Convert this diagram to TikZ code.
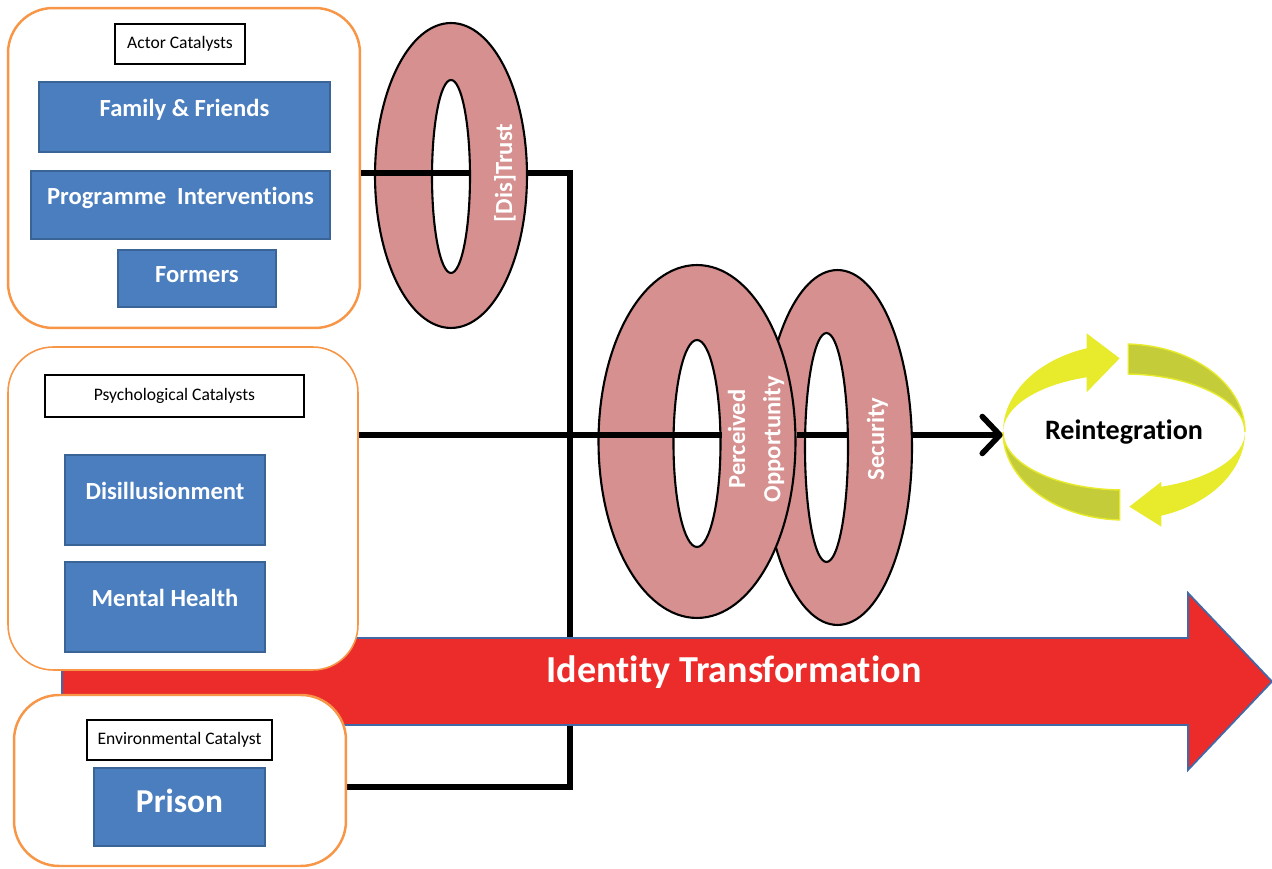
\documentclass[tikz,border=0pt]{standalone}
\usepackage{fontspec}
\setmainfont{Carlito}[Ligatures=NoCommon]
\usepackage{xcolor}
\usepackage{tikz}
\usetikzlibrary{shapes.geometric,arrows.meta,backgrounds}

\definecolor{catorange}{HTML}{F79646}
\definecolor{catblue}{HTML}{4A7EBF}
\definecolor{catblueedge}{HTML}{3A6496}
\definecolor{ringpink}{HTML}{D5908F}
\definecolor{idred}{HTML}{EC2C2A}
\definecolor{idedge}{HTML}{4169A8}
\definecolor{cycyellow}{HTML}{E8EA2C}
\definecolor{cycolive}{HTML}{C4CC3A}

\begin{document}
\begin{tikzpicture}[x=0.02cm,y=0.02cm]
\tikzstyle{catgroup} = [draw=catorange, line width=1.4pt, fill=white, rounded corners=0.9cm, inner sep=0]
\tikzstyle{cattag} = [draw=black, line width=0.7pt, fill=white, inner sep=0, font=\fontsize{10}{12}\selectfont]
\tikzstyle{catbox} = [draw=catblueedge, line width=1pt, fill=catblue, text=white, inner sep=0, text height=8pt, text depth=9pt, font=\bfseries\fontsize{14}{17}\selectfont]
\tikzstyle{ringout} = [ellipse, draw=black, line width=1.2pt, fill=ringpink, inner sep=0]
\tikzstyle{ringhole} = [ellipse, draw=black, line width=1.2pt, fill=white, inner sep=0]
\tikzstyle{ringtext} = [text=white, rotate=90, align=center, font=\bfseries\fontsize{14}{20}\selectfont]
\tikzstyle{link} = [line width=3.2pt]
\tikzstyle{arrow} = [link, -{Straight Barb[length=10pt,width=21pt,round]}]

\useasboundingbox (0,0) rectangle (1272,869);

\coordinate (top) at (0,696);
\coordinate (lvl) at (0,434);
\coordinate (jn) at (570,696);
\coordinate (jb) at (570,82);

% catalyst groups
\node(actor)[catgroup, minimum width=7.04cm, minimum height=6.4cm] at (184,701) {};
\node(actortag)[cattag, minimum width=2.6cm, minimum height=0.8cm] at (180,825) {Actor Catalysts};
\node(family)[catbox, minimum width=5.82cm, minimum height=1.4cm] at (184.5,752) {Family \& Friends};
\node(programme)[catbox, minimum width=5.98cm, minimum height=1.36cm] at (180.5,664) {Programme~ Interventions};
\node(formers)[catbox, minimum width=3.16cm, minimum height=1.14cm, text depth=3pt] at (197,590.5) {Formers};

\node(psych)[catgroup, line width=0.9pt, minimum width=7cm, minimum height=6.46cm] at (183,360.5) {};
\node(psychtag)[cattag, minimum width=5.18cm, minimum height=0.84cm] at (174.5,473) {Psychological Catalysts};
\node(disill)[catbox, minimum width=4cm, minimum height=1.8cm] at (165,369) {Disillusionment};
\node(mental)[catbox, minimum width=4cm, minimum height=1.8cm] at (165,262) {Mental Health};

\node(env)[catgroup, minimum width=6.64cm, minimum height=3.42cm] at (180,88.5) {};
\node(envtag)[cattag, minimum width=3.7cm, minimum height=0.8cm] at (179.5,129) {Environmental Catalyst};
\node(prison)[catbox, minimum width=3.42cm, minimum height=1.56cm, text height=12pt, text depth=6pt, font=\bfseries\fontsize{19}{22}\selectfont] at (179.5,62) {Prison};

% rings
\node(dist)[ringout, minimum width=3.04cm, minimum height=6.1cm] at (451,693.5) {};
\node(disthole)[ringhole, minimum width=0.76cm, minimum height=3.86cm] at (451,692.5) {};
\node(distlbl)[ringtext] at (505,696) {[Dis]Trust};

\node(sec)[ringout, minimum width=2.98cm, minimum height=7.1cm] at (837.5,421.5) {};
\node(sechole)[ringhole, minimum width=0.86cm, minimum height=4.58cm] at (826.5,421.5) {};
\node(opp)[ringout, minimum width=3.94cm, minimum height=7.06cm] at (697,427.5) {};
\node(opphole)[ringhole, minimum width=0.94cm, minimum height=4.14cm] at (697,425.5) {};
\node(opplbl)[ringtext] at (756,430) {Perceived\\Opportunity};
\node(seclbl)[ringtext] at (877.5,430) {Security};

% reintegration cycle
\node(reint)[ellipse, minimum width=4.84cm, minimum height=3.52cm, inner sep=0, font=\bfseries\fontsize{16}{19}\selectfont] at (1124,437) {Reintegration};
\fill[cycolive, draw=cycyellow, line width=0.8pt] (reint.center) ++(88:121 and 88) arc[start angle=88, end angle=0, x radius=121, y radius=88] arc[start angle=0, end angle=88, x radius=121, y radius=58] -- cycle;
\fill[cycolive, draw=cycyellow, line width=0.8pt] (reint.center) ++(-92:121 and 88) arc[start angle=-92, end angle=-180, x radius=121, y radius=88] arc[start angle=180, end angle=268, x radius=121, y radius=58] -- cycle;
\fill[cycyellow] (reint.center) ++(180:121 and 88) arc[start angle=180, end angle=108, x radius=121, y radius=88] -- ++(0,15) -- ++(33,-25) -- ++(-33,-34) -- ++(0,15) arc[start angle=108, end angle=180, x radius=121, y radius=58] -- cycle;
\fill[cycyellow] (reint.center) ++(0:121 and 88) arc[start angle=0, end angle=-72, x radius=121, y radius=88] -- ++(0,-11) -- ++(-32,20) -- ++(32,25) -- ++(0,-5) arc[start angle=-72, end angle=0, x radius=121, y radius=58] -- cycle;

% connectors
\draw[link] (actor.east |- top) -- (disthole.east |- top);
\draw[link] (psych.east |- lvl) -- (opphole.east |- lvl);
\draw[link] (opp.east |- lvl) -- (sechole.east |- lvl);
\draw[arrow] (sec.east |- lvl) -- (reint.west |- lvl);

\begin{scope}[on background layer]
\draw[link] (dist.east |- top) -- (jn) -- (jb) -- (jb -| env.east);
\filldraw[fill=idred, draw=idedge, line width=1pt] (62,231) -- (1188,231) -- (1188,276) -- (1272,187.5) -- (1188,99) -- (1188,144) -- (62,144) -- cycle;
\end{scope}
\node(idtext)[text=white, font=\bfseries\fontsize{21.7}{25}\selectfont] at (734,197) {Identity Transformation};
\end{tikzpicture}
\end{document}
